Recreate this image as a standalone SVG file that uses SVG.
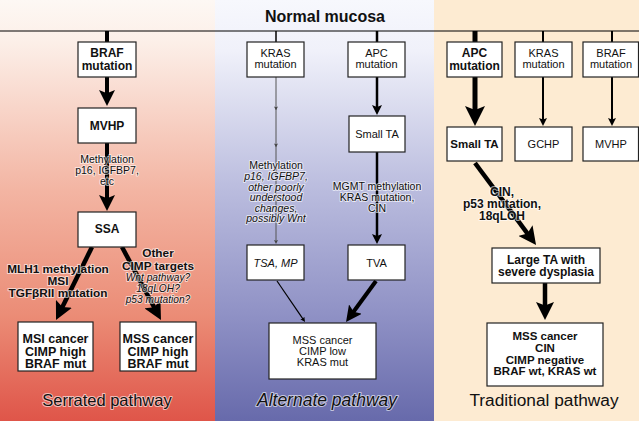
<svg xmlns="http://www.w3.org/2000/svg" width="639" height="421" viewBox="0 0 639 421">
<defs>
<linearGradient id="gRed" x1="0" y1="0" x2="0" y2="421" gradientUnits="userSpaceOnUse">
<stop offset="0" stop-color="#fdf8f4"/>
<stop offset="0.1" stop-color="#fcefe8"/>
<stop offset="0.45" stop-color="#f3b5a3"/>
<stop offset="0.75" stop-color="#eb8c76"/>
<stop offset="1" stop-color="#df5549"/>
</linearGradient>
<linearGradient id="gBlue" x1="0" y1="0" x2="0" y2="421" gradientUnits="userSpaceOnUse">
<stop offset="0" stop-color="#f7f8fd"/>
<stop offset="0.12" stop-color="#f0f1fa"/>
<stop offset="0.45" stop-color="#babcde"/>
<stop offset="0.75" stop-color="#8f91c5"/>
<stop offset="1" stop-color="#676aab"/>
</linearGradient>
<marker id="ah" viewBox="0 0 10 10" refX="4" refY="5" markerWidth="4" markerHeight="4" markerUnits="strokeWidth" orient="auto">
<path d="M0,0 L10,5 L0,10 L2,5 z" fill="#000"/>
</marker>
<marker id="ahg" viewBox="0 0 10 10" refX="4" refY="5" markerWidth="4" markerHeight="4" markerUnits="strokeWidth" orient="auto">
<path d="M0,0 L10,5 L0,10 L2,5 z" fill="#444"/>
</marker>
</defs>
<style>
text { font-family: "Liberation Sans", Arial, sans-serif; text-anchor: middle; fill: #111; }
.b { font-weight: bold; }
.i { font-style: italic; }
.box { fill: #fff; stroke: #222; stroke-width: 1.2; }
.halo { paint-order: stroke; stroke: #fff; stroke-width: 2; stroke-opacity: 0.6; stroke-linejoin: round; }
.c { stroke: #000; fill: none; marker-end: url(#ah); }
.s { stroke: #000; fill: none; }
</style>

<g id="background">
<rect x="0" y="0" width="215" height="421" fill="url(#gRed)"/>
<rect x="215" y="0" width="219" height="421" fill="url(#gBlue)"/>
<rect x="434" y="0" width="205" height="421" fill="#fdebd2"/>
<line x1="0" y1="31" x2="639" y2="31" stroke="#000" stroke-width="1.2"/>
<text x="325" y="22" class="b" font-size="16">Normal mucosa</text>
</g>

<g id="connectors">
<line class="s" x1="107" y1="31" x2="107" y2="42" stroke-width="4"/>
<line class="c" x1="107" y1="77" x2="107" y2="96.4" stroke-width="4"/>
<line class="c" x1="107" y1="143" x2="107" y2="201.4" stroke-width="4"/>
<line class="c" x1="92" y1="247" x2="60.8" y2="310.3" stroke-width="4.5"/>
<line class="c" x1="122" y1="247" x2="155.9" y2="310.5" stroke-width="4.5"/>
<line class="s" x1="276" y1="31" x2="276" y2="42" stroke="#444" stroke-width="1.5"/>
<polyline points="276,77 276,108 276,145 276,241.6" fill="none" stroke="#555" stroke-width="1" marker-mid="url(#ahg)" marker-end="url(#ahg)"/>
<line class="s" x1="377" y1="31" x2="377" y2="42" stroke-width="2.5"/>
<line class="c" x1="377" y1="77" x2="377" y2="109" stroke-width="2.5"/>
<line class="c" x1="377" y1="152" x2="377" y2="238" stroke-width="2.5"/>
<line class="c" x1="277" y1="281" x2="303.4" y2="319.6" stroke-width="1.2"/>
<line class="c" x1="376" y1="281" x2="351.7" y2="314.3" stroke-width="4"/>
<line class="s" x1="475" y1="31" x2="475" y2="42" stroke-width="5"/>
<line class="c" x1="475" y1="77" x2="475" y2="114" stroke-width="5"/>
<line class="s" x1="543" y1="31" x2="543" y2="42" stroke-width="2"/>
<line class="c" x1="543" y1="77" x2="543" y2="121.2" stroke-width="2"/>
<line class="s" x1="612" y1="31" x2="612" y2="42" stroke-width="2"/>
<line class="c" x1="612" y1="77" x2="612" y2="121.2" stroke-width="2"/>
<line class="c" x1="475" y1="163" x2="529.6" y2="236.3" stroke-width="4.5"/>
<line class="c" x1="545" y1="283" x2="545" y2="309.2" stroke-width="4.5"/>
</g>

<g id="labels">
<g font-size="10.5">
<text x="107" y="163" class="halo">Methylation</text>
<text x="107" y="174" class="halo">p16, IGFBP7,</text>
<text x="107" y="185" class="halo">etc</text>
</g>
<g font-size="11.8">
<text x="58" y="273" class="b halo">MLH1 methylation</text>
<text x="58" y="285" class="b halo">MSI</text>
<text x="58" y="297" class="b halo">TGFβRII mutation</text>
<text x="158" y="257" class="b halo">Other</text>
<text x="158" y="270" class="b halo">CIMP targets</text>
</g>
<g font-size="10.2">
<text x="158" y="280.5" class="i halo">Wnt pathway?</text>
<text x="158" y="291.5" class="i halo">18qLOH?</text>
<text x="158" y="302.5" class="i halo">p53 mutation?</text>
</g>
<g font-size="10.5">
<text x="276" y="169" class="halo">Methylation</text>
<text x="276" y="180" class="i halo">p16, IGFBP7,</text>
<text x="276" y="190.5" class="i halo">other poorly</text>
<text x="276" y="201" class="i halo">understood</text>
<text x="276" y="211.5" class="i halo">changes,</text>
<text x="276" y="222" class="i halo">possibly Wnt</text>
<text x="377" y="189.5" class="halo">MGMT methylation</text>
<text x="377" y="200.5" class="halo">KRAS mutation,</text>
<text x="377" y="211.5" class="halo">CIN</text>
</g>
<g font-size="12">
<text x="502" y="196" class="b halo">CIN,</text>
<text x="502" y="208" class="b halo">p53 mutation,</text>
<text x="502" y="220" class="b halo">18qLOH</text>
</g>
<text x="107" y="406" font-size="16.5" class="halo">Serrated pathway</text>
<text x="327" y="406" font-size="17.5" class="i halo">Alternate pathway</text>
<text x="544" y="406" font-size="17.3">Traditional pathway</text>
</g>

<g id="node-braf-s">
<rect class="box" x="78" y="42" width="58" height="35"/>
<text x="107" y="57" class="b" font-size="12">BRAF</text>
<text x="107" y="70" class="b" font-size="12">mutation</text>
</g>
<g id="node-mvhp-s">
<rect class="box" x="78" y="108" width="58" height="35"/>
<text x="107" y="130" class="b" font-size="12">MVHP</text>
</g>
<g id="node-ssa">
<rect class="box" x="78" y="212" width="58" height="35"/>
<text x="107" y="232.5" class="b" font-size="12">SSA</text>
</g>
<g id="node-msi-cancer">
<rect class="box" x="18" y="322" width="75" height="49"/>
<text x="55.5" y="343" class="b" font-size="12.5">MSI cancer</text>
<text x="55.5" y="355.5" class="b" font-size="12.5">CIMP high</text>
<text x="55.5" y="368" class="b" font-size="12.5">BRAF mut</text>
</g>
<g id="node-mss-cancer-s">
<rect class="box" x="120" y="322" width="76" height="49"/>
<text x="158" y="343" class="b" font-size="12.5">MSS cancer</text>
<text x="158" y="355.5" class="b" font-size="12.5">CIMP high</text>
<text x="158" y="368" class="b" font-size="12.5">BRAF mut</text>
</g>

<g id="node-kras-a">
<rect class="box" x="247" y="42" width="57" height="35"/>
<text x="275.5" y="57" font-size="11">KRAS</text>
<text x="275.5" y="68" font-size="11">mutation</text>
</g>
<g id="node-apc-a">
<rect class="box" x="348" y="42" width="57" height="35"/>
<text x="376.5" y="57" font-size="11">APC</text>
<text x="376.5" y="68" font-size="11">mutation</text>
</g>
<g id="node-smallta-a">
<rect class="box" x="349" y="116" width="56" height="36"/>
<text x="377" y="137.5" font-size="11">Small TA</text>
</g>
<g id="node-tsa">
<rect class="box" x="247" y="245" width="57" height="35"/>
<text x="275.5" y="266.5" class="i" font-size="11">TSA, MP</text>
</g>
<g id="node-tva">
<rect class="box" x="348" y="245" width="57" height="35"/>
<text x="376.5" y="266.5" font-size="11">TVA</text>
</g>
<g id="node-mss-cancer-a">
<rect class="box" x="269" y="323" width="107" height="56"/>
<text x="322.5" y="344" font-size="11">MSS cancer</text>
<text x="322.5" y="355" font-size="11">CIMP low</text>
<text x="322.5" y="366" font-size="11">KRAS mut</text>
</g>

<g id="node-apc-t">
<rect class="box" x="447" y="42" width="55" height="35"/>
<text x="474.5" y="57" class="b" font-size="12">APC</text>
<text x="474.5" y="70" class="b" font-size="12">mutation</text>
</g>
<g id="node-kras-t">
<rect class="box" x="515" y="42" width="57" height="35"/>
<text x="543.5" y="57" font-size="11">KRAS</text>
<text x="543.5" y="68" font-size="11">mutation</text>
</g>
<g id="node-braf-t">
<rect class="box" x="583" y="42" width="55.5" height="35"/>
<text x="611" y="57" font-size="11">BRAF</text>
<text x="611" y="68" font-size="11">mutation</text>
</g>
<g id="node-smallta-t">
<rect class="box" x="447" y="127" width="55" height="34"/>
<text x="474.5" y="148" class="b" font-size="11.5">Small TA</text>
</g>
<g id="node-gchp">
<rect class="box" x="515" y="127" width="57" height="34"/>
<text x="543.5" y="148" font-size="11">GCHP</text>
</g>
<g id="node-mvhp-t">
<rect class="box" x="583" y="127" width="55.5" height="34"/>
<text x="611" y="148" font-size="11">MVHP</text>
</g>
<g id="node-large-ta">
<rect class="box" x="492" y="248" width="108" height="35"/>
<text x="546" y="264" class="b" font-size="12">Large TA with</text>
<text x="546" y="276" class="b" font-size="12">severe dysplasia</text>
</g>
<g id="node-mss-cancer-t">
<rect class="box" x="487" y="323" width="116" height="63"/>
<text x="545" y="340" class="b" font-size="11.5">MSS cancer</text>
<text x="545" y="352" class="b" font-size="11.5">CIN</text>
<text x="545" y="363.5" class="b" font-size="11.5">CIMP negative</text>
<text x="545" y="375" class="b" font-size="11.5">BRAF wt, KRAS wt</text>
</g>
</svg>
